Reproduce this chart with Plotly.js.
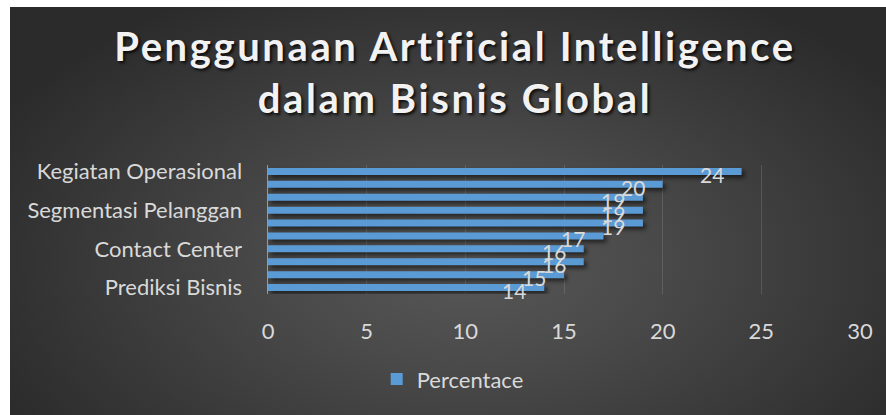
<!DOCTYPE html>
<html>
<head>
<meta charset="utf-8">
<script src="https://cdn.plot.ly/plotly-3.0.1.min.js"></script>
<style>
  html, body { margin:0; padding:0; background:#ffffff; width:886px; height:415px; overflow:hidden; }
  #chart {
    position:absolute; left:10px; top:7px; width:876px; height:408px;
    background: radial-gradient(ellipse 60% 75% at 52% 62%, #585858 0%, #4a4a4a 35%, #2b2b2b 100%);
  }
  #chart .gtitle { letter-spacing: 2.6px; }
  #chart .barlayer path { filter: drop-shadow(3px 3px 2px rgba(0,0,0,0.55)); }
</style>
</head>
<body>
<div id="chart"></div>
<script>
const categories = [
  "Kegiatan Operasional", "Layanan Pelanggan", "Pemasaran Digital",
  "Segmentasi Pelanggan", "Manajemen Risiko", "Deteksi Penipuan",
  "Contact Center", "Rekrutmen", "Personalisasi Produk", "Prediksi Bisnis"
];
const values = [24, 20, 19, 19, 19, 17, 16, 16, 15, 14];
const shownLabels = ["Kegiatan Operasional", "Segmentasi Pelanggan", "Contact Center", "Prediksi Bisnis"];
const xTicks = [0, 5, 10, 15, 20, 25, 30];
const seriesName = "Percentace";
const titleText = "Penggunaan Artificial Intelligence<br>dalam Bisnis Global";

const labelColor = "#d9d9d9";
const fontFam = "Lato, 'Open Sans', sans-serif";

const trace = {
  type: "bar",
  orientation: "h",
  x: values,
  y: categories,
  name: seriesName,
  marker: { color: "#5b9bd5", line: { width: 0 } },
  hoverinfo: "x+y",
  showlegend: true
};

const annotations = values.map((v, i) => ({
  x: v, y: categories[i], xref: "x", yref: "y",
  text: String(v), showarrow: false,
  xanchor: "right", yanchor: "middle", xshift: -16, yshift: -3,
  font: { family: fontFam, size: 21, color: labelColor }
}));

const layout = {
  width: 876, height: 408,
  paper_bgcolor: "rgba(0,0,0,0)",
  plot_bgcolor: "rgba(0,0,0,0)",
  margin: { l: 258, r: 26, t: 157.5, b: 120.5, autoexpand: false },
  title: {
    text: titleText,
    x: 0.508, xanchor: "center",
    y: 0.867, yanchor: "middle",
    font: { family: fontFam, size: 40, weight: 700, color: "#f2f2f2", shadow: "2px 2px 3px rgba(0,0,0,0.8)" }
  },
  bargap: 0.46,
  xaxis: {
    range: [0, 30], tickvals: xTicks, ticktext: xTicks.map(String),
    showgrid: true, gridcolor: "rgba(255,255,255,0.13)", gridwidth: 1,
    zeroline: false, showline: false, ticks: "",
    ticklabelstandoff: 22,
    tickfont: { family: fontFam, size: 22, color: labelColor },
    fixedrange: true
  },
  yaxis: {
    type: "category", range: [categories.length - 0.5, -0.5], autorange: false,
    tickvals: shownLabels, ticktext: shownLabels,
    showgrid: false, zeroline: false,
    showline: true, linecolor: "rgba(255,255,255,0.45)", linewidth: 1.5,
    ticks: "", ticklabelstandoff: 20,
    tickfont: { family: fontFam, size: 22, color: labelColor },
    fixedrange: true
  },
  legend: {
    orientation: "h", x: 0.312, xanchor: "center", y: -0.66, yanchor: "middle",
    itemwidth: 30,
    font: { family: fontFam, size: 22, color: labelColor },
    bgcolor: "rgba(0,0,0,0)"
  },
  annotations: annotations,
  showlegend: true
};

Plotly.newPlot("chart", [trace], layout, { displayModeBar: false, staticPlot: true });
</script>
</body>
</html>
